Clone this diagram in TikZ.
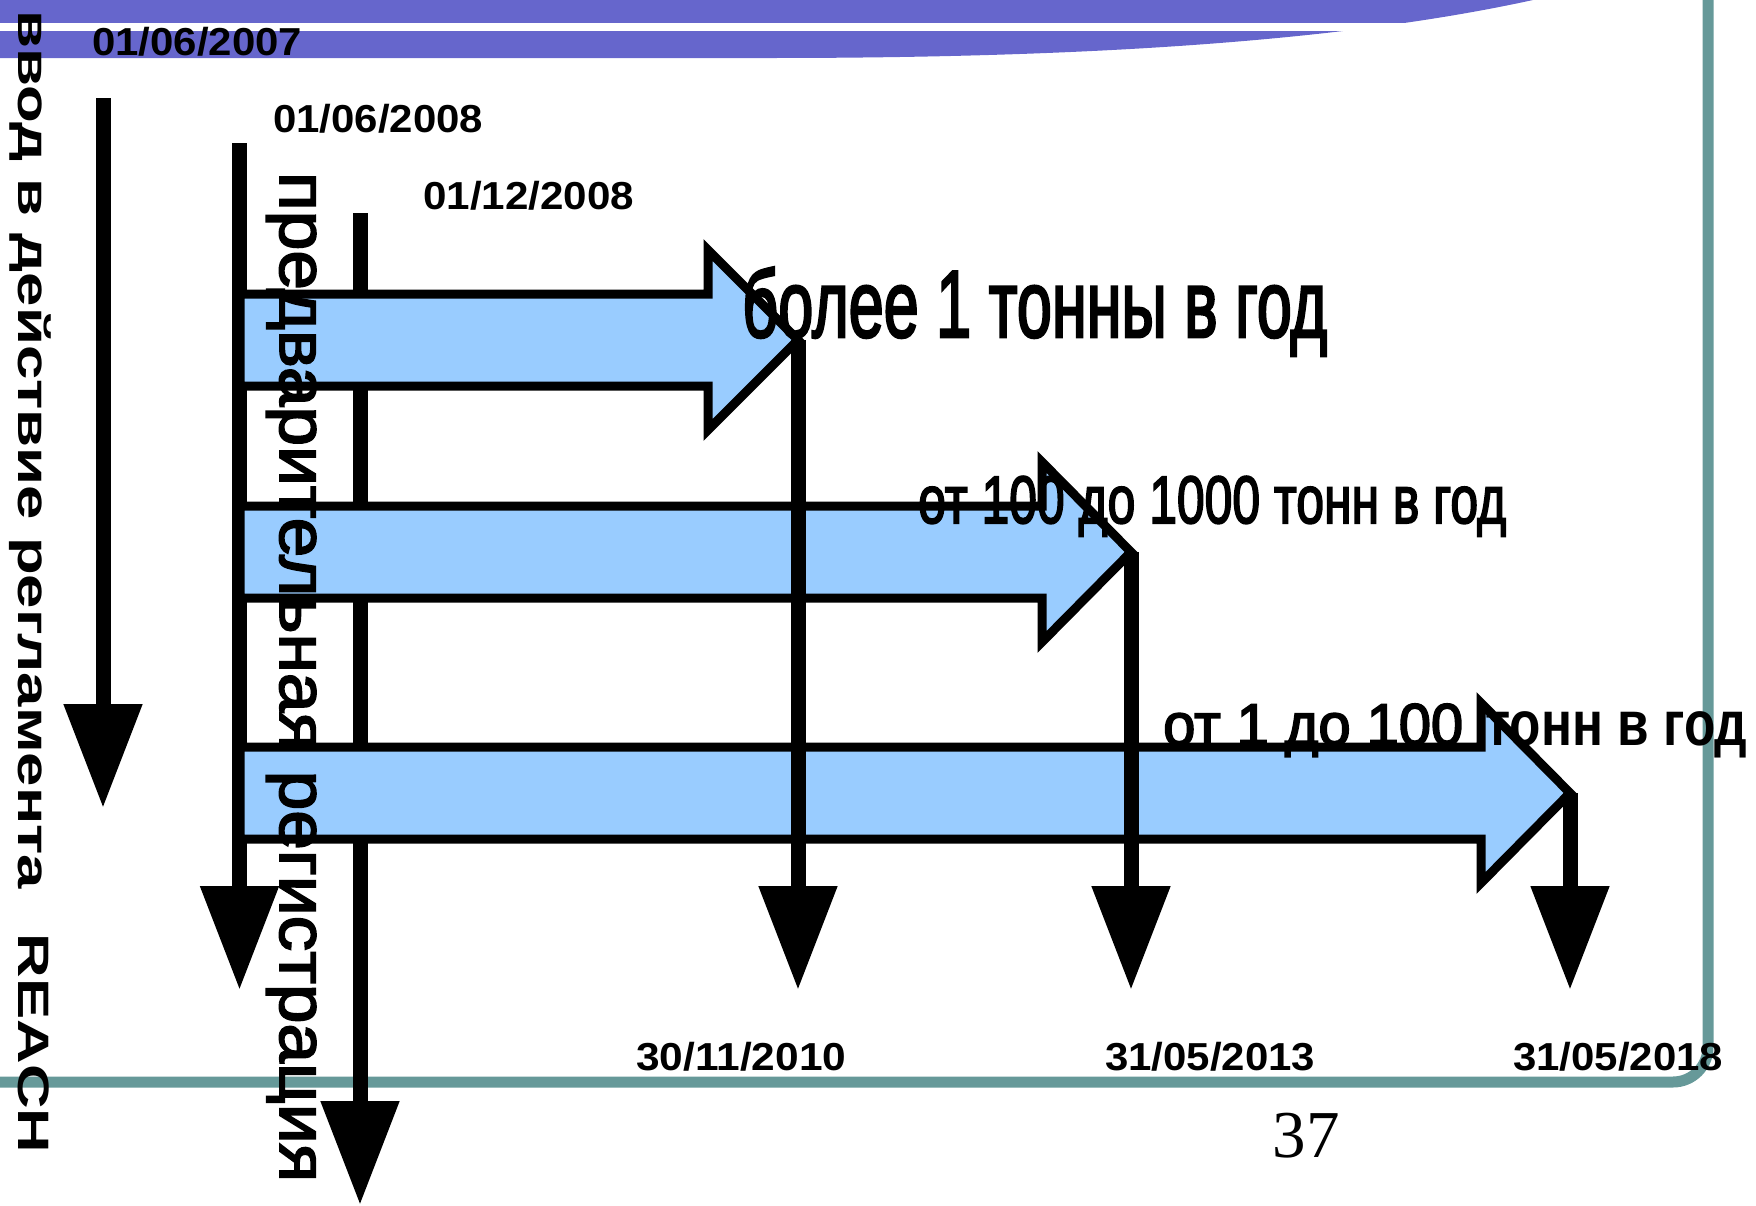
\documentclass[tikz,border=0pt]{standalone}
\usepackage{fontspec, graphicx}
\setmainfont{Liberation Sans}
\newfontfamily\bandfont{Liberation Sans}[FakeBold=3]
\newfontfamily\sidefont{Liberation Sans}[FakeBold=2.5]
\newfontfamily\pagefont{Liberation Serif}
\usetikzlibrary{arrows.meta}

\definecolor{bannerpurple}{RGB}{102,102,204}
\definecolor{frameteal}{RGB}{102,153,153}
\definecolor{arrowblue}{RGB}{153,204,255}

\newcommand{\fitw}[2]{\resizebox{#1}{\height}{#2}}

\tikzset{
  banner/.style={fill=bannerpurple},
  frameline/.style={draw=frameteal, line width=11pt, rounded corners=35pt},
  timeline/.style={line width=15pt, -{Triangle[width=75pt,length=104pt]}},
  blockarrow/.style={draw=black, fill=arrowblue, line width=9pt},
  datelabel/.style={anchor=base west, inner sep=0pt, font=\fontsize{39}{39}\selectfont\bfseries},
  bandlabel/.style={anchor=base west, inner sep=0pt},
  sidetext/.style={rotate=-90, anchor=base west, inner sep=0pt},
}

\begin{document}
\begin{tikzpicture}[x=1pt,y=-1pt]
    \useasboundingbox (0,0) rectangle (1756,1205);
    % slide template
    \fill[banner] (0,0) -- (1533,0) .. controls (1350,40) and (1100,58) .. (770,58) -- (0,58) -- cycle;
    \fill[white] (0,23) rectangle (1450,31);
    \draw[frameline] (1708,-30) -- (1708,1082) -- (-30,1082);

    \coordinate (s07) at (103,98);    \coordinate (e07) at (103,808);
    \coordinate (s08) at (239.5,143); \coordinate (e08) at (239.5,990);
    \coordinate (s12) at (360,213);   \coordinate (e12) at (360,1205);
    \draw[timeline] (s07) -- (e07);
    \draw[timeline] (s08) -- (e08);
    \draw[timeline] (s12) -- (e12);

    % tonnage bands
    \coordinate (tip1) at (798,340);
    \coordinate (tip2) at (1131,552);
    \coordinate (tip3) at (1570,793);
    \draw[blockarrow] (240,294) -- (708,294) -- (708,250) -- (tip1) -- (708,430) -- (708,386) -- (240,386) -- cycle;
    \draw[blockarrow] (240,506) -- (1042,506) -- (1042,462) -- (tip2) -- (1042,642) -- (1042,598) -- (240,598) -- cycle;
    \draw[blockarrow] (240,747) -- (1481,747) -- (1481,703) -- (tip3) -- (1481,883) -- (1481,839) -- (240,839) -- cycle;

    \coordinate (e10) at (798,990);
    \coordinate (e13) at (1131,990);
    \coordinate (e18) at (1570,990);
    \draw[timeline] (tip1) -- (e10);
    \draw[timeline] (tip2) -- (e13);
    \draw[timeline] (tip3) -- (e18);

    % labels
    \node[datelabel] (d07) at (92,55) {\fitw{210pt}{01/06/2007}};
    \node[datelabel] (d08) at (273,132) {\fitw{210pt}{01/06/2008}};
    \node[datelabel] (d12) at (423,209) {\fitw{211pt}{01/12/2008}};
    \node[datelabel] (d10) at (636,1070) {\fitw{210pt}{30/11/2010}};
    \node[datelabel] (d13) at (1105,1070) {\fitw{210pt}{31/05/2013}};
    \node[datelabel] (d18) at (1513,1070) {\fitw{210pt}{31/05/2018}};

    \node[bandlabel] (band1) at (742,337) {\bandfont\fontsize{95}{95}\selectfont\fitw{585pt}{более 1 тонны в год}};
    \node[bandlabel] (band2) at (918,523) {\bandfont\fontsize{67}{67}\selectfont\fitw{588pt}{от 100 до 1000 тонн в год}};
    \node[bandlabel] (band3) at (1163,745) {\bandfont\fontsize{59}{59}\selectfont\fitw{300pt}{от 1 до 100}\hspace{22pt}\fitw{262pt}{\rmfamily\fontsize{63}{63}\selectfont\bfseries тонн в год}};

    \node[sidetext] (reach) at (18,10) {\fontsize{44}{44}\selectfont\bfseries\fitw{1143pt}{ввод в действие регламента\hspace{0.73em}REACH}};
    \node[sidetext] (prereg) at (280,172) {\sidefont\fontsize{67}{67}\selectfont\fitw{1010pt}{предварительная регистрация}};

    \node[anchor=base east, inner sep=0pt, font=\pagefont\fontsize{67}{67}\selectfont] (pagenum) at (1340,1157) {37};
\end{tikzpicture}
\end{document}
